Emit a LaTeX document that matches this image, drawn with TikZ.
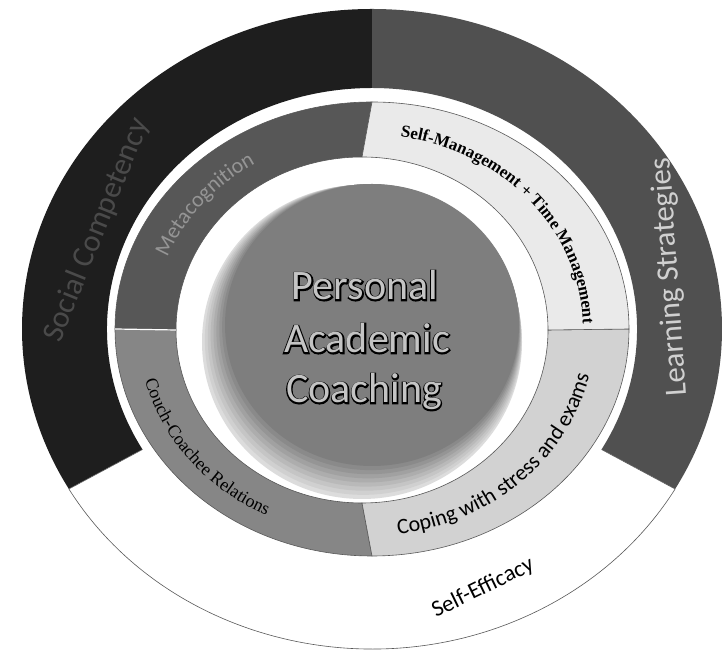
\documentclass[tikz,border=0pt]{standalone}
\usepackage{fontspec}
\setmainfont{Carlito}
\newfontfamily\tnr{Liberation Serif}
\newfontfamily\outlinefont[FakeBold=6]{Carlito}
\usetikzlibrary{calc,decorations.text}
\definecolor{socialc}{HTML}{1E1E1E}
\definecolor{learnc}{HTML}{505050}
\definecolor{metac}{HTML}{575757}
\definecolor{coachc}{HTML}{868686}
\definecolor{selfmc}{HTML}{EAEAEA}
\definecolor{copingc}{HTML}{D2D2D2}
\definecolor{haloc}{HTML}{DCDCDC}
\definecolor{discc}{HTML}{7E7E7E}
\definecolor{socialtext}{HTML}{4A4A4A}
\definecolor{learntext}{HTML}{D0D0D0}
\definecolor{metatext}{HTML}{959595}
\definecolor{centertext}{HTML}{C4C4C4}
\begin{document}
\begin{tikzpicture}[x=1pt,y=1pt,
  segline/.style={draw=black!65, line width=0.6pt},
  outerlabel/.style={inner sep=0pt, font=\fontsize{31}{31}\selectfont},
  centerlabel/.style={inner sep=0pt, anchor=base, text=centertext, font=\fontsize{42}{42}\selectfont},
  centershadow/.style={inner sep=0pt, anchor=base, text=black, font=\outlinefont\fontsize{42}{42}\selectfont}]
\useasboundingbox (0,0) rectangle (722,652);
\fill[white] (0,0) rectangle (722,652);
\coordinate (C1) at (372,323);
\coordinate (C2) at (362,322);
\coordinate (C3) at (367,322.5);

% ---------- outer band ----------
\fill[socialc] ($(C1)+(90:350pt and 320pt)$) arc[start angle=90,end angle=210,x radius=350pt,y radius=320pt]
  -- ($(C1)+(210:265pt and 241pt)$) arc[start angle=210,end angle=90,x radius=265pt,y radius=241pt] -- cycle;
\fill[learnc] ($(C1)+(90:350pt and 320pt)$) arc[start angle=90,end angle=-30,x radius=350pt,y radius=320pt]
  -- ($(C1)+(-30:265pt and 241pt)$) arc[start angle=-30,end angle=90,x radius=265pt,y radius=241pt] -- cycle;
\filldraw[fill=white, segline] ($(C1)+(210:265pt and 241pt)$) -- ($(C1)+(210:350pt and 320pt)$)
  arc[start angle=210,end angle=330,x radius=350pt,y radius=320pt]
  -- ($(C1)+(330:265pt and 241pt)$);

% ---------- middle ring ----------
\filldraw[fill=metac, segline] ($(C1)+(90:257pt and 227pt)$) arc[start angle=90,end angle=180,x radius=257pt,y radius=227pt]
  -- ($(C2)+(180:186pt and 173pt)$) arc[start angle=180,end angle=90,x radius=186pt,y radius=173pt] -- cycle;
\filldraw[fill=coachc, segline] ($(C1)+(180:257pt and 227pt)$) arc[start angle=180,end angle=270,x radius=257pt,y radius=227pt]
  -- ($(C2)+(270:186pt and 173pt)$) arc[start angle=270,end angle=180,x radius=186pt,y radius=173pt] -- cycle;
\filldraw[fill=copingc, segline] ($(C1)+(270:257pt and 227pt)$) arc[start angle=270,end angle=360,x radius=257pt,y radius=227pt]
  -- ($(C2)+(360:186pt and 173pt)$) arc[start angle=360,end angle=270,x radius=186pt,y radius=173pt] -- cycle;
\filldraw[fill=selfmc, segline] ($(C1)+(0:257pt and 227pt)$) arc[start angle=0,end angle=90,x radius=257pt,y radius=227pt]
  -- ($(C2)+(90:186pt and 173pt)$) arc[start angle=90,end angle=0,x radius=186pt,y radius=173pt] -- cycle;
\draw[white, line width=1.2pt] ($(C2)+(180:186pt and 173pt)$) -- ($(C1)+(180:257pt and 227pt)$);

% ---------- central disc ----------
\foreach \i in {0,...,8}{
  \pgfmathsetmacro{\f}{\i/8}
  \pgfmathsetmacro{\pc}{100*\f}
  \fill[discc!\pc!haloc] ({362+10*\f},{310+17*\f}) ellipse[x radius={160-13*\f}, y radius={157-16*\f}];
}

% ---------- labels ----------
\node[outerlabel, rotate=68, text=socialtext] (social) at (97,422) {Social Competency};
\node[outerlabel, rotate=94, text=learntext] (learning) at (670,375) {Learning Strategies};
\node[inner sep=0pt, rotate=26, font=\fontsize{23}{23}\selectfont] (efficacy) at (483,64) {Self-Efficacy};

\path[decorate, decoration={text along path, text align=center,
  text={|\fontsize{22}{22}\selectfont\color{metatext}|Metacognition}}]
  ($(C3)+(165:215pt and 194pt)$) arc[start angle=165,end angle=115,x radius=215pt,y radius=194pt];
\path[decorate, decoration={text along path, text align=center,
  text={|\tnr\bfseries\fontsize{17}{17}\selectfont|Self-Management + Time Management}}]
  ($(C3)+(88:216pt and 195pt)$) arc[start angle=88,end angle=-6,x radius=216pt,y radius=195pt];
\path[decorate, decoration={text along path, text align=center,
  text={|\fontsize{22}{22}\selectfont|Coping with stress and exams}}]
  ($(C3)+(268:228pt and 207pt)$) arc[start angle=268,end angle=358,x radius=228pt,y radius=207pt];
\path[decorate, decoration={text along path, text align=center,
  text={|\tnr\fontsize{18}{18}\selectfont|Couch-Coachee Relations}}]
  ($(C3)+(180:229pt and 207pt)$) arc[start angle=180,end angle=257,x radius=229pt,y radius=207pt];

\node[centershadow] (personalrim) at (365,352) {Personal};
\node[centershadow] (academicrim) at (367,299) {Academic};
\node[centershadow] (coachingrim) at (364,249) {Coaching};
\node[centerlabel] (personal) at (personalrim.base) {Personal};
\node[centerlabel] (academic) at (academicrim.base) {Academic};
\node[centerlabel] (coaching) at (coachingrim.base) {Coaching};
\end{tikzpicture}
\end{document}
